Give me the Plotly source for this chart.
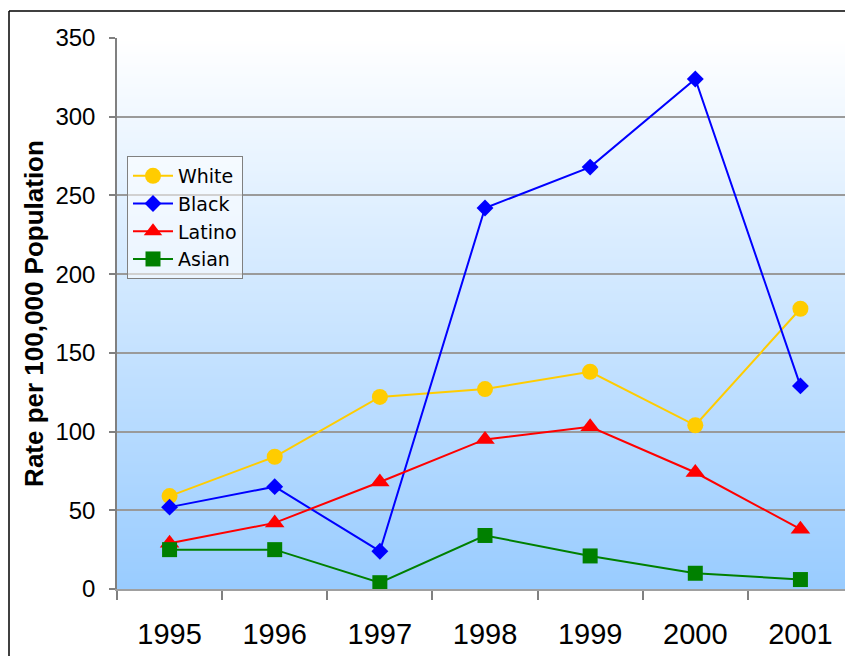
import base64, struct, zlib
import plotly.graph_objects as go

years = ["1995", "1996", "1997", "1998", "1999", "2000", "2001"]
white = [59, 84, 122, 127, 138, 104, 178]
black = [52, 65, 24, 242, 268, 324, 129]
latino = [29, 42, 68, 95, 103, 74, 38]
asian = [25, 25, 4, 34, 21, 10, 6]

series_names = ["White", "Black", "Latino", "Asian"]
series_values = [white, black, latino, asian]
series_colors = ["#FFCC00", "#0000FF", "#FF0000", "#008000"]
series_symbols = ["circle", "diamond", "triangle-up", "square"]
series_sizes = [16, 13, 17, 15]


def gradient_png(top, bottom, n=256):
    rows = b""
    for i in range(n):
        t = i / (n - 1)
        c = bytes(int(round(top[k] + (bottom[k] - top[k]) * t)) for k in range(3))
        rows += b"\x00" + c
    def chunk(tag, data):
        return struct.pack(">I", len(data)) + tag + data + struct.pack(">I", zlib.crc32(tag + data) & 0xffffffff)
    png = b"\x89PNG\r\n\x1a\n"
    png += chunk(b"IHDR", struct.pack(">IIBBBBB", 1, n, 8, 2, 0, 0, 0))
    png += chunk(b"IDAT", zlib.compress(rows))
    png += chunk(b"IEND", b"")
    return "data:image/png;base64," + base64.b64encode(png).decode()


fig = go.Figure()
for name, vals, col, sym, sz in zip(series_names, series_values, series_colors, series_symbols, series_sizes):
    fig.add_trace(go.Scatter(
        x=years, y=vals, name=name, mode="lines+markers",
        line=dict(color=col, width=2),
        marker=dict(symbol=sym, size=sz, color=col),
    ))

# page has an 8px body margin; figure placed so plot area matches reference
OFF = 8
W, H = 845, 648
L, R, T, B = 109, 0, 30, 67
pw, ph = W - L - R, H - T - B

def px_x(page_x):
    return (page_x - OFF - L) / pw

def px_y(page_y):
    return (H - B - (page_y - OFF)) / ph

fig.update_layout(
    width=W, height=H,
    margin=dict(l=L, r=R, t=T, b=B),
    paper_bgcolor="white",
    plot_bgcolor="white",
    font=dict(family="Liberation Sans, Arial, sans-serif", color="black"),
    showlegend=True,
    legend=dict(
        x=px_x(127), y=px_y(156), xanchor="left", yanchor="top",
        bgcolor="rgba(255,255,255,0.55)", bordercolor="#808080", borderwidth=1,
        font=dict(size=19, family="DejaVu Sans, Verdana, sans-serif"),
        tracegroupgap=0, itemsizing="trace", itemwidth=40,
    ),
    images=[dict(
        source=gradient_png((255, 255, 255), (153, 204, 255)),
        xref="paper", yref="paper", x=0, y=1, sizex=1, sizey=1,
        xanchor="left", yanchor="top", sizing="stretch", layer="below",
    )],
    shapes=[
        dict(type="line", xref="paper", yref="paper",
             x0=px_x(9), x1=1.05, y0=px_y(11), y1=px_y(11),
             line=dict(color="black", width=1.5)),
        dict(type="line", xref="paper", yref="paper",
             x0=px_x(9), x1=px_x(9), y0=px_y(11), y1=-0.3,
             line=dict(color="black", width=1.5)),
    ],
)

fig.update_xaxes(
    type="category", range=[-0.5, len(years) - 0.5],
    tickson="boundaries", ticks="outside", ticklen=9,
    tickcolor="#808080", tickwidth=1.5,
    showline=True, linecolor="#a0a0a0", linewidth=1.5,
    showgrid=False, zeroline=False,
    tickfont=dict(size=29, family="Liberation Sans Narrow, Liberation Sans, Arial"),
    ticklabelstandoff=18,
)
fig.update_yaxes(
    range=[0, 350], dtick=50, tick0=0,
    ticks="outside", ticklen=6, tickcolor="#808080", tickwidth=1.5,
    showline=True, linecolor="#808080", linewidth=1.5,
    showgrid=True, gridcolor="#9a9a9a", gridwidth=1.5,
    zeroline=False,
    tickfont=dict(size=24),
    ticklabelstandoff=9,
    title=dict(text="<b>Rate per 100,000 Population</b>", font=dict(size=26), standoff=4),
)

fig.write_html("out.html")
